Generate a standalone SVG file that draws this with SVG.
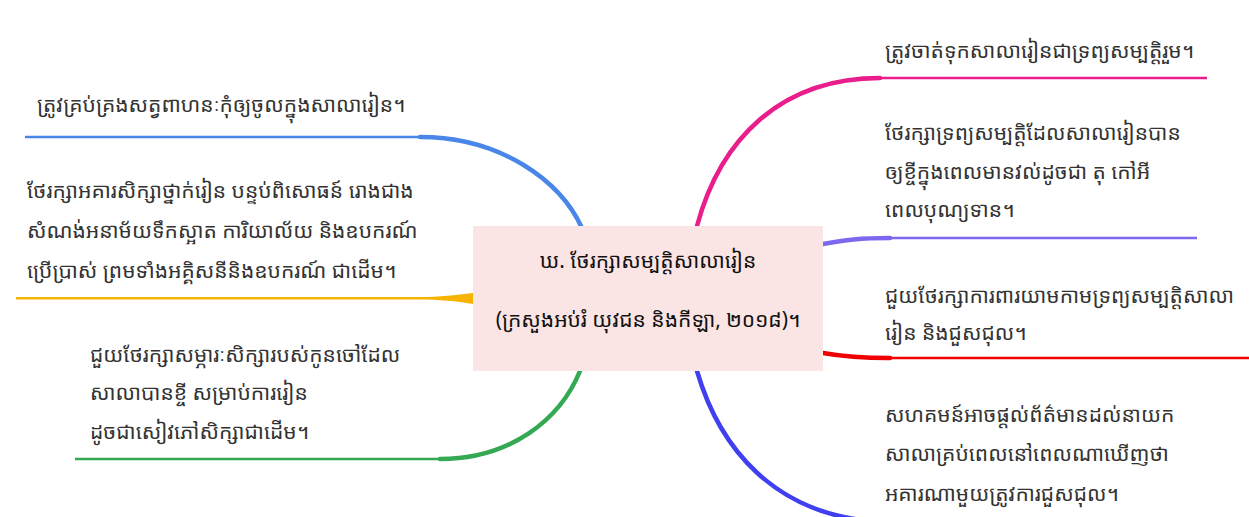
<svg xmlns="http://www.w3.org/2000/svg" width="1249" height="517" viewBox="0 0 1249 517">
<style>
.t{font-family:"Noto Sans Khmer","Khmer OS","Khmer OS System","Noto Sans","DejaVu Sans",sans-serif;font-size:21px;fill:#333333}
.c{font-family:"Noto Sans Khmer","Khmer OS","Khmer OS System","Noto Sans","DejaVu Sans",sans-serif;font-size:21px;fill:#111;text-anchor:middle}
.cv{fill:none;stroke-width:4.5;stroke-linecap:round}
.ln{fill:none;stroke-width:2.5}
</style>
<rect width="1249" height="517" fill="#ffffff"/>
<g id="connectors">
<path class="cv" stroke="#4a86e8" d="M582,228 C560,180 500,137 420,137"/>
<path class="ln" stroke="#4a86e8" d="M425,137 L25,137"/>
<path fill="#f6b400" d="M473,293 C455,295 440,297 420,297 L16,297 L16,299.5 L420,299.5 C440,299.5 455,301 473,304 Z"/>
<path class="cv" stroke="#34a853" d="M580,371 C560,420 510,459 440,459"/>
<path class="ln" stroke="#34a853" d="M445,459 L75,459"/>
<path class="cv" stroke="#e91e8c" d="M697,226 C720,140 780,78 880,78"/>
<path class="ln" stroke="#e91e8c" d="M875,78 L1207,78"/>
<path class="cv" stroke="#7b68ee" d="M823,244 C845,240 860,238 890,238"/>
<path class="ln" stroke="#7b68ee" d="M885,238 L1197,238"/>
<path class="cv" stroke="#f00000" d="M823,353 C845,357 860,358 890,358"/>
<path class="ln" stroke="#f00000" d="M885,358 L1249,358"/>
<path class="cv" stroke="#4040f0" d="M697,371 C720,450 775,512 870,521"/>
</g>
<g id="center">
<rect x="473" y="226" width="350" height="145" fill="#fbe4e4"/>
<text class="c" x="648" y="268">ឃ. ថែរក្សាសម្បត្តិសាលារៀន</text>
<text class="c" x="648" y="327">(ក្រសួងអប់រំ យុវជន និងកីឡា, ២០១៨)។</text>
</g>
<g id="r1">
<text class="t" x="885" y="58">ត្រូវចាត់ទុកសាលារៀនជាទ្រព្យសម្បត្តិរួម។</text>
</g>
<g id="r2">
<text class="t" x="885" y="140">ថែរក្សាទ្រព្យសម្បត្តិដែលសាលារៀនបាន</text>
<text class="t" x="885" y="179">ឲ្យខ្ចីក្នុងពេលមានវល់ដូចជា តុ កៅអី</text>
<text class="t" x="885" y="217">ពេលបុណ្យទាន។</text>
</g>
<g id="r3">
<text class="t" x="885" y="303">ជួយថែរក្សាការពារយាមកាមទ្រព្យសម្បត្តិសាលា</text>
<text class="t" x="885" y="340">រៀន និងជួសជុល។</text>
</g>
<g id="r4">
<text class="t" x="885" y="422">សហគមន៍អាចផ្តល់ព័ត៌មានដល់នាយក</text>
<text class="t" x="885" y="461">សាលាគ្រប់ពេលនៅពេលណាឃើញថា</text>
<text class="t" x="885" y="501">អគារណាមួយត្រូវការជួសជុល។</text>
</g>
<g id="l1">
<text class="t" x="37" y="112">ត្រូវគ្រប់គ្រងសត្វពាហនៈកុំឲ្យចូលក្នុងសាលារៀន។</text>
</g>
<g id="l2">
<text class="t" x="27" y="198">ថែរក្សាអគារសិក្សាថ្នាក់រៀន បន្ទប់ពិសោធន៍ រោងជាង</text>
<text class="t" x="27" y="238">សំណង់អនាម័យទឹកស្អាត ការិយាល័យ និងឧបករណ៍</text>
<text class="t" x="27" y="278">ប្រើប្រាស់ ព្រមទាំងអគ្គិសនីនិងឧបករណ៍ ជាដើម។</text>
</g>
<g id="l3">
<text class="t" x="90" y="362">ជួយថែរក្សាសម្ភារៈសិក្សារបស់កូនចៅដែល</text>
<text class="t" x="90" y="400">សាលាបានខ្ចី សម្រាប់ការរៀន</text>
<text class="t" x="90" y="439">ដូចជាសៀវភៅសិក្សាជាដើម។</text>
</g>
</svg>
